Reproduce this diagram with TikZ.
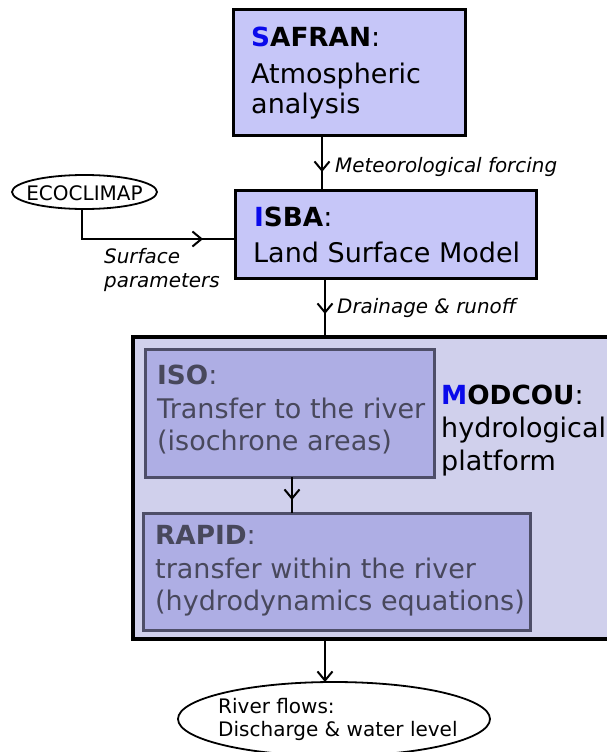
\documentclass[tikz,border=0pt]{standalone}
\usepackage{fontspec}
\setmainfont{DejaVu Sans}
\usetikzlibrary{arrows.meta,shapes.geometric}
\definecolor{topfill}{RGB}{198,198,248}
\definecolor{modfill}{RGB}{208,208,236}
\definecolor{subfill}{RGB}{174,174,228}
\definecolor{subedge}{RGB}{78,78,104}
\definecolor{subtext}{RGB}{72,72,92}
\definecolor{initial}{RGB}{10,10,235}
\tikzset{
  topbox/.style={draw=black, line width=3pt, fill=topfill, anchor=north west, inner sep=0pt, outer sep=0pt},
  modbox/.style={draw=black, line width=3.5pt, fill=modfill, anchor=north west, inner sep=0pt, outer sep=0pt},
  subbox/.style={draw=subedge, line width=3pt, fill=subfill, anchor=north west, inner sep=0pt, outer sep=0pt},
  oval/.style={draw=black, line width=1.8pt, fill=white, ellipse, inner sep=0pt, outer sep=0pt},
  bigtxt/.style={anchor=base west, inner sep=0pt, font=\fontsize{27}{32}\selectfont},
  grtxt/.style={bigtxt, text=subtext},
  lbl/.style={anchor=base west, inner sep=0pt, font=\fontsize{19.9}{24}\selectfont\itshape},
  smtxt/.style={anchor=base west, inner sep=0pt, font=\fontsize{20}{24}\selectfont},
  wire/.style={draw=black, line width=2pt},
  tip/.style={draw=black, line width=2pt, -{Straight Barb[length=9pt,width=15pt,line width=2pt]}}
}
\newcommand{\ttl}[2]{{\fontsize{26.3}{32}\selectfont\textbf{{\color{initial}#1}#2}}:}
\newcommand{\gttl}[1]{{\fontsize{26.3}{32}\selectfont\textbf{#1}}:}
\begin{document}
\begin{tikzpicture}[x=1pt,y=-1pt]
\useasboundingbox (0,0) rectangle (607,752);
\clip (0,0) rectangle (607,752);

% boxes
\node[topbox, minimum width=232pt, minimum height=125pt] (safran) at (233,10) {};
\node[topbox, minimum width=301pt, minimum height=88pt] (isba) at (235,190) {};
\node[modbox, minimum width=476pt, minimum height=302pt] (modcou) at (133,337) {};
\node[subbox, minimum width=289pt, minimum height=128pt] (iso) at (145,349) {};
\node[subbox, minimum width=387pt, minimum height=117pt] (rapid) at (143,513) {};
\node[oval, minimum width=145pt, minimum height=34pt] (eco) at (84.5,192) {};
\node[oval, minimum width=312pt, minimum height=74pt] (river) at (334,719) {};

% texts
\node[bigtxt] (s1) at (251,47) {\ttl{S}{AFRAN}};
\node[bigtxt] (s2) at (251,83) {Atmospheric};
\node[bigtxt] (s3) at (251,113) {analysis};

\node[bigtxt] (i1) at (254,226) {\ttl{I}{SBA}};
\node[bigtxt] (i2) at (253,262) {Land Surface Model};

\node[grtxt] (o1) at (157,384) {\gttl{ISO}};
\node[grtxt] (o2) at (157,418) {Transfer to the river};
\node[grtxt] (o3) at (157,450) {(isochrone areas)};

\node[grtxt] (r1) at (155,544) {\gttl{RAPID}};
\node[grtxt] (r2) at (155,578) {transfer within the river};
\node[grtxt] (r3) at (155,610) {(hydrodynamics equations)};

\node[bigtxt] (m1) at (441,404) {\ttl{M}{ODCOU}};
\node[bigtxt] (m2) at (441,437) {hydrological};
\node[bigtxt] (m3) at (441,470) {platform};

\node[smtxt] (ecotxt) at (eco) [anchor=center, yshift=-1pt] {ECOCLIMAP};
\node[smtxt] (rv1) at (218,713) {River flows:};
\node[smtxt] (rv2) at (218,736) {Discharge \& water level};

\node[lbl] (l1) at (335,172) {Meteorological forcing};
\node[lbl] (l2) at (337,313) {Drainage \& runoff};
\node[lbl] (l3) at (104,263) {Surface};
\node[lbl] (l4) at (104,287) {parameters};

% connectors
\coordinate (t1) at (322,172);
\coordinate (t2) at (325,314);
\coordinate (t3) at (292,500);
\coordinate (t4) at (325,682);
\coordinate (bend) at (82,239);
\coordinate (t5) at (203,239);

\draw[wire] (safran.south -| t1) -- (isba.north -| t1);
\draw[tip] (safran.south -| t1) -- (t1);

\draw[wire] (isba.south -| t2) -- (modcou.north -| t2);
\draw[tip] (isba.south -| t2) -- (t2);

\draw[wire] (iso.south -| t3) -- (rapid.north -| t3);
\draw[tip] (iso.south -| t3) -- (t3);

\draw[tip] (modcou.south -| t4) -- (river.north -| t4);

\draw[wire] (eco.south -| bend) -- (bend) -- (isba.west |- bend);
\draw[tip] (bend) -- (t5);
\end{tikzpicture}
\end{document}
